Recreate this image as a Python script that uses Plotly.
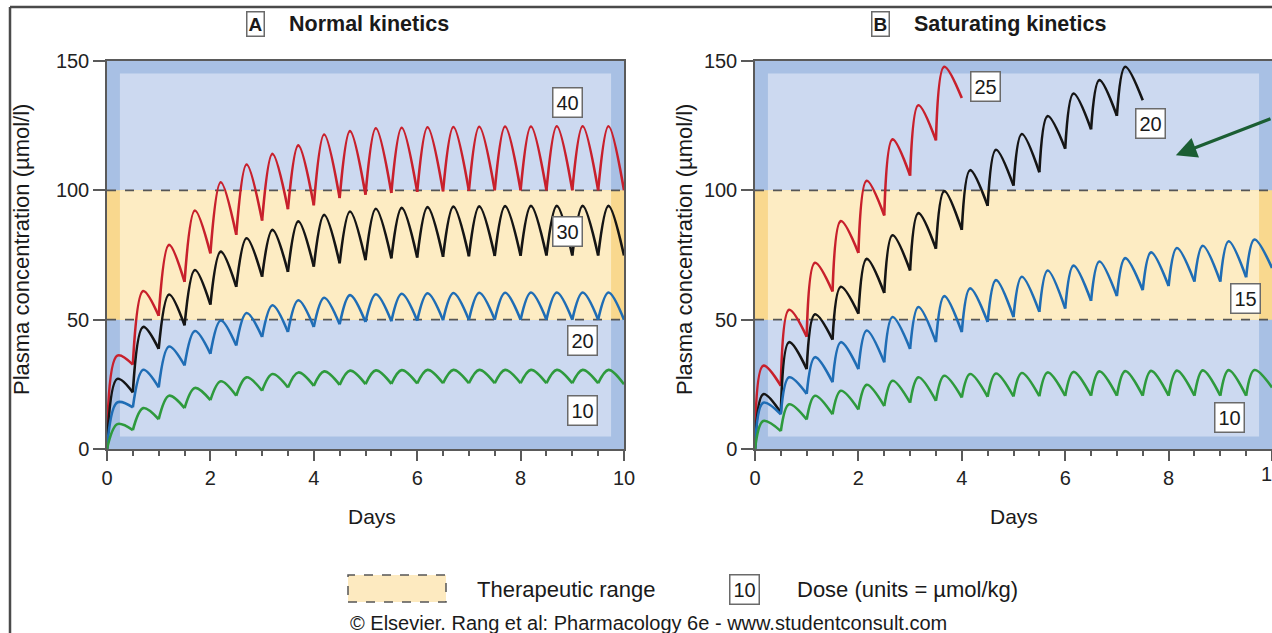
import plotly.graph_objects as go

W, H = 1272, 633
FONT = "Liberation Sans, Arial, Helvetica, sans-serif"

# ---------------- data ----------------
DOSE_TIMES = [0.0, 0.5, 1.0, 1.5, 2.0, 2.5, 3.0, 3.5, 4.0, 4.5,
              5.0, 5.5, 6.0, 6.5, 7.0, 7.5, 8.0, 8.5, 9.0, 9.5]
PEAK_LAG_A = 0.2     # days from dose to peak (panel A)
PEAK_LAG_B = 0.16    # days from dose to peak (panel B)

# Panel A - normal kinetics; troughs = value at each dose time, plus end value
A40_PEAK = [36.1, 61.1, 78.9, 92.2, 103.1, 110.0, 114.1, 117.4, 121.6, 122.9,
            124.0, 124.2, 124.4, 124.5, 124.6, 124.7, 124.7, 124.8, 124.8, 124.8]
A40_TROUGH = [0, 32.6, 51.5, 64.6, 75.6, 82.8, 88.3, 92.7, 94.2, 97.0, 98.3,
              99.0, 99.4, 99.6, 99.8, 100, 100, 100, 100, 100, 100]
A30_PEAK = [27.1, 47.2, 59.7, 69.2, 76.3, 81.5, 84.7, 88.0, 90.5, 91.8,
            92.9, 93.2, 93.5, 93.7, 93.8, 93.9, 94.0, 94.0, 94.0, 94.0]
A30_TROUGH = [0, 21.9, 38.7, 47.8, 55.8, 62.7, 66.6, 68.5, 70.5, 71.8, 73.0,
              73.7, 74.0, 74.3, 74.5, 74.6, 74.7, 74.8, 74.8, 74.8, 74.8]
A20_PEAK = [18.0, 30.6, 39.6, 45.6, 49.7, 52.6, 55.6, 57.5, 58.5, 59.5,
            59.8, 60.0, 60.2, 60.3, 60.4, 60.4, 60.5, 60.5, 60.5, 60.5]
A20_TROUGH = [0, 16.1, 23.8, 32.3, 36.8, 40.0, 43.3, 45.2, 47.2, 48.2, 49.1,
              49.4, 49.6, 49.8, 49.9, 50, 50, 50, 50, 50, 50]
A10_PEAK = [9.6, 15.8, 20.6, 23.6, 26.2, 27.7, 29.0, 29.6, 30.0, 30.3,
            30.4, 30.5, 30.6, 30.6, 30.6, 30.6, 30.6, 30.6, 30.6, 30.6]
A10_TROUGH = [0, 7.3, 11.5, 15.8, 18.9, 20.6, 22.5, 23.8, 24.4, 24.8, 25.1,
              25.2, 25.3, 25.4, 25.4, 25.4, 25.4, 25.4, 25.4, 25.4, 25.0]

# Panel B - saturating kinetics
B25_END = 4.0
B25_PEAK = [32.2, 53.8, 72.0, 88.1, 103.7, 119.7, 132.9, 147.8]
B25_TROUGH = [0, 24.4, 43.4, 60.9, 75.8, 90.3, 105.7, 119.3, 135.7]
B20_END = 7.5
B20_PEAK = [21.2, 41.3, 52.1, 62.7, 73.5, 82.6, 91.2, 99.7, 107.8, 115.7,
            121.8, 128.7, 137.4, 142.6, 147.8]
B20_TROUGH = [0, 14.0, 30.9, 42.3, 52.3, 60.3, 69.0, 77.4, 84.7, 94.0, 101.8,
              107.0, 116.1, 123.6, 128.8, 134.8]
B15_PEAK = [17.9, 27.7, 35.5, 41.3, 45.8, 51.0, 54.9, 59.1, 62.1, 65.3,
            66.6, 69.0, 70.9, 72.5, 73.8, 76.0, 77.7, 78.6, 80.3, 81.0]
B15_TROUGH = [0, 13.4, 21.3, 25.8, 30.9, 33.5, 38.7, 41.3, 45.2, 49.1, 51.0,
              53.0, 54.3, 57.3, 59.1, 61.4, 63.0, 64.7, 64.7, 66.4, 70.0]
B10_PEAK = [10.8, 17.3, 20.6, 22.5, 24.8, 26.4, 27.7, 28.3, 29.0, 29.2,
            29.4, 29.6, 29.8, 30.0, 30.1, 30.2, 30.3, 30.4, 30.5, 30.5]
B10_TROUGH = [0, 6.9, 11.4, 13.4, 15.3, 16.6, 17.9, 18.6, 19.9, 20.2, 20.3,
              20.4, 20.5, 20.6, 20.6, 20.6, 20.6, 20.6, 20.6, 20.6, 23.8]

DAYS_END = 10.0
THERAPEUTIC = [50, 100]
Y_TICKS = [0, 50, 100, 150]

# label boxes: (text, x, y)
A_LABELS = [("40", 8.9, 134), ("30", 8.9, 84), ("20", 9.2, 42), ("10", 9.2, 15)]
B_LABELS = [("25", 4.45, 140), ("20", 7.65, 126), ("15", 9.48, 58), ("10", 9.17, 12)]

RED, BLACK, BLUE, GREEN = "#c8202c", "#151515", "#1f6db5", "#2e9a3d"


def segments(times, end, troughs, peaks, lag):
    xs, ys = [], []
    for k, t in enumerate(times):
        t_next = times[k + 1] if k + 1 < len(times) else end
        xs += [t, t + lag, t_next, None]
        ys += [troughs[k], peaks[k], troughs[k + 1], None]
    return xs, ys


fig = go.Figure()

curves = [
    ("x", "y", DOSE_TIMES, DAYS_END, A40_TROUGH, A40_PEAK, PEAK_LAG_A, RED),
    ("x", "y", DOSE_TIMES, DAYS_END, A30_TROUGH, A30_PEAK, PEAK_LAG_A, BLACK),
    ("x", "y", DOSE_TIMES, DAYS_END, A20_TROUGH, A20_PEAK, PEAK_LAG_A, BLUE),
    ("x", "y", DOSE_TIMES, DAYS_END, A10_TROUGH, A10_PEAK, PEAK_LAG_A, GREEN),
    ("x2", "y2", DOSE_TIMES[:len(B25_PEAK)], B25_END, B25_TROUGH, B25_PEAK, PEAK_LAG_B, RED),
    ("x2", "y2", DOSE_TIMES[:len(B20_PEAK)], B20_END, B20_TROUGH, B20_PEAK, PEAK_LAG_B, BLACK),
    ("x2", "y2", DOSE_TIMES, DAYS_END, B15_TROUGH, B15_PEAK, PEAK_LAG_B, BLUE),
    ("x2", "y2", DOSE_TIMES, DAYS_END, B10_TROUGH, B10_PEAK, PEAK_LAG_B, GREEN),
]
for xa, ya, times, end, tr, pk, lag, col in curves:
    xs, ys = segments(times, end, tr, pk, lag)
    fig.add_trace(go.Scatter(x=xs, y=ys, xaxis=xa, yaxis=ya, mode="lines",
                             line=dict(color=col, width=2.6, shape="spline", smoothing=1.0),
                             connectgaps=False, hoverinfo="skip", showlegend=False))

# ---------------- layout geometry ----------------
def px_x(p):
    return p / W


def px_y(p):
    return 1 - p / H


axis_common = dict(showgrid=False, zeroline=False, showline=True, mirror=True,
                   automargin=False,
                   linecolor="#5a5a5a", linewidth=1.5, ticks="outside",
                   tickcolor="#5a5a5a", tickwidth=1.5,
                   tickfont=dict(family=FONT, size=20, color="#222"))

xa = dict(axis_common, range=[0, 10], tickmode="linear", tick0=0, dtick=2, ticklen=10,
          minor=dict(tickmode="linear", tick0=0, dtick=0.5, ticklen=5, ticks="outside",
                     tickcolor="#5a5a5a", tickwidth=1.5))
ya = dict(axis_common, range=[0, 150], tickvals=Y_TICKS, ticklen=12)

fig.update_layout(
    width=W, height=H, margin=dict(l=0, r=0, t=0, b=0, autoexpand=False),
    paper_bgcolor="white", plot_bgcolor="white",
    xaxis=dict(xa, domain=[px_x(107), px_x(624)], anchor="y"),
    yaxis=dict(ya, domain=[px_y(449), px_y(61)], anchor="x"),
    xaxis2=dict(xa, domain=[px_x(755), px_x(1272)], anchor="y2"),
    yaxis2=dict(ya, domain=[px_y(449), px_y(61)], anchor="x2"),
    font=dict(family=FONT, color="#1a1a1a"),
)

shapes = []
for xr, yr in (("x", "y"), ("x2", "y2")):
    shapes += [
        dict(type="rect", xref=xr, yref=yr, x0=0, x1=10, y0=0, y1=150,
             fillcolor="#a8c0e4", line=dict(width=0), layer="below"),
        dict(type="rect", xref=xr, yref=yr, x0=0.25, x1=9.75, y0=4.8, y1=145.2,
             fillcolor="#ccd9f0", line=dict(width=0), layer="below"),
        dict(type="rect", xref=xr, yref=yr, x0=0, x1=10, y0=THERAPEUTIC[0], y1=THERAPEUTIC[1],
             fillcolor="#f9d88e", line=dict(width=0), layer="below"),
        dict(type="rect", xref=xr, yref=yr, x0=0.25, x1=9.75, y0=THERAPEUTIC[0], y1=THERAPEUTIC[1],
             fillcolor="#fdecc3", line=dict(width=0), layer="below"),
    ]
    for yv in THERAPEUTIC:
        shapes.append(dict(type="line", xref=xr, yref=yr, x0=0, x1=10, y0=yv, y1=yv,
                           line=dict(color="#555", width=1.6, dash="dash"), layer="below"))

# legend swatch
shapes.append(dict(type="rect", xref="paper", yref="paper",
                   x0=px_x(348), x1=px_x(446), y0=px_y(602), y1=px_y(575),
                   fillcolor="#fdeac0", line=dict(color="#555", width=1.5, dash="dash")))
# image frame (top and left)
shapes.append(dict(type="line", xref="paper", yref="paper", x0=px_x(10), x1=1,
                   y0=px_y(7), y1=px_y(7), line=dict(color="#4a4a4a", width=2.5)))
shapes.append(dict(type="line", xref="paper", yref="paper", x0=px_x(10), x1=px_x(10),
                   y0=0, y1=px_y(7), line=dict(color="#4a4a4a", width=2.5)))
fig.update_layout(shapes=shapes)

ann = []
box = dict(bgcolor="white", bordercolor="#6a6a6a", borderwidth=1.5, borderpad=3,
           showarrow=False, xanchor="center", yanchor="middle",
           font=dict(family=FONT, size=20, color="#1a1a1a"))
for txt, x, y in A_LABELS:
    ann.append(dict(box, text=txt, x=x, y=y, xref="x", yref="y"))
for txt, x, y in B_LABELS:
    ann.append(dict(box, text=txt, x=x, y=y, xref="x2", yref="y2"))

txt_style = dict(showarrow=False, xref="paper", yref="paper", yanchor="middle")

# panel titles
for letter, lx, title, tx in (("A", 255, "Normal kinetics", 287),
                              ("B", 880, "Saturating kinetics", 912)):
    ann.append(dict(box, text="<b>%s</b>" % letter, x=px_x(lx), y=px_y(24),
                    xref="paper", yref="paper", borderpad=1,
                    font=dict(family=FONT, size=19, color="#1a1a1a")))
    ann.append(dict(txt_style, text="<b>%s</b>" % title, x=px_x(tx), y=px_y(24),
                    xanchor="left", font=dict(family=FONT, size=21.5, color="#1a1a1a")))

# axis titles
for yx in (21, 684):
    ann.append(dict(txt_style, text="Plasma concentration (µmol/l)", x=px_x(yx), y=px_y(250),
                    xanchor="center", textangle=-90,
                    font=dict(family=FONT, size=22, color="#1a1a1a")))
for dx in (372, 1014):
    ann.append(dict(txt_style, text="Days", x=px_x(dx), y=px_y(516), xanchor="center",
                    font=dict(family=FONT, size=21, color="#1a1a1a")))

# the partly cut "10" tick label at the right edge of panel B (cut in the reference too)
ann.append(dict(txt_style, text="10", x=px_x(1272), y=px_y(474), xanchor="center",
                font=dict(family=FONT, size=20, color="#222")))

# legend texts
ann.append(dict(txt_style, text="Therapeutic range", x=px_x(475), y=px_y(589),
                xanchor="left", font=dict(family=FONT, size=22, color="#1a1a1a")))
ann.append(dict(box, text="10", x=px_x(744), y=px_y(589), xref="paper", yref="paper"))
ann.append(dict(txt_style, text="Dose (units = µmol/kg)", x=px_x(795), y=px_y(589),
                xanchor="left", font=dict(family=FONT, size=22, color="#1a1a1a")))
ann.append(dict(txt_style, text="© Elsevier. Rang et al: Pharmacology 6e - www.studentconsult.com",
                x=px_x(348), y=px_y(623), xanchor="left",
                font=dict(family=FONT, size=20, color="#1a1a1a")))

# green arrow
ann.append(dict(x=8.14, y=113.6, xref="x2", yref="y2", ax=100, ay=-37,
                showarrow=True, arrowhead=2, arrowsize=1.3, arrowwidth=3.2,
                arrowcolor="#1b5e33", text=""))

fig.update_layout(annotations=ann)
fig.write_html("out.html")
